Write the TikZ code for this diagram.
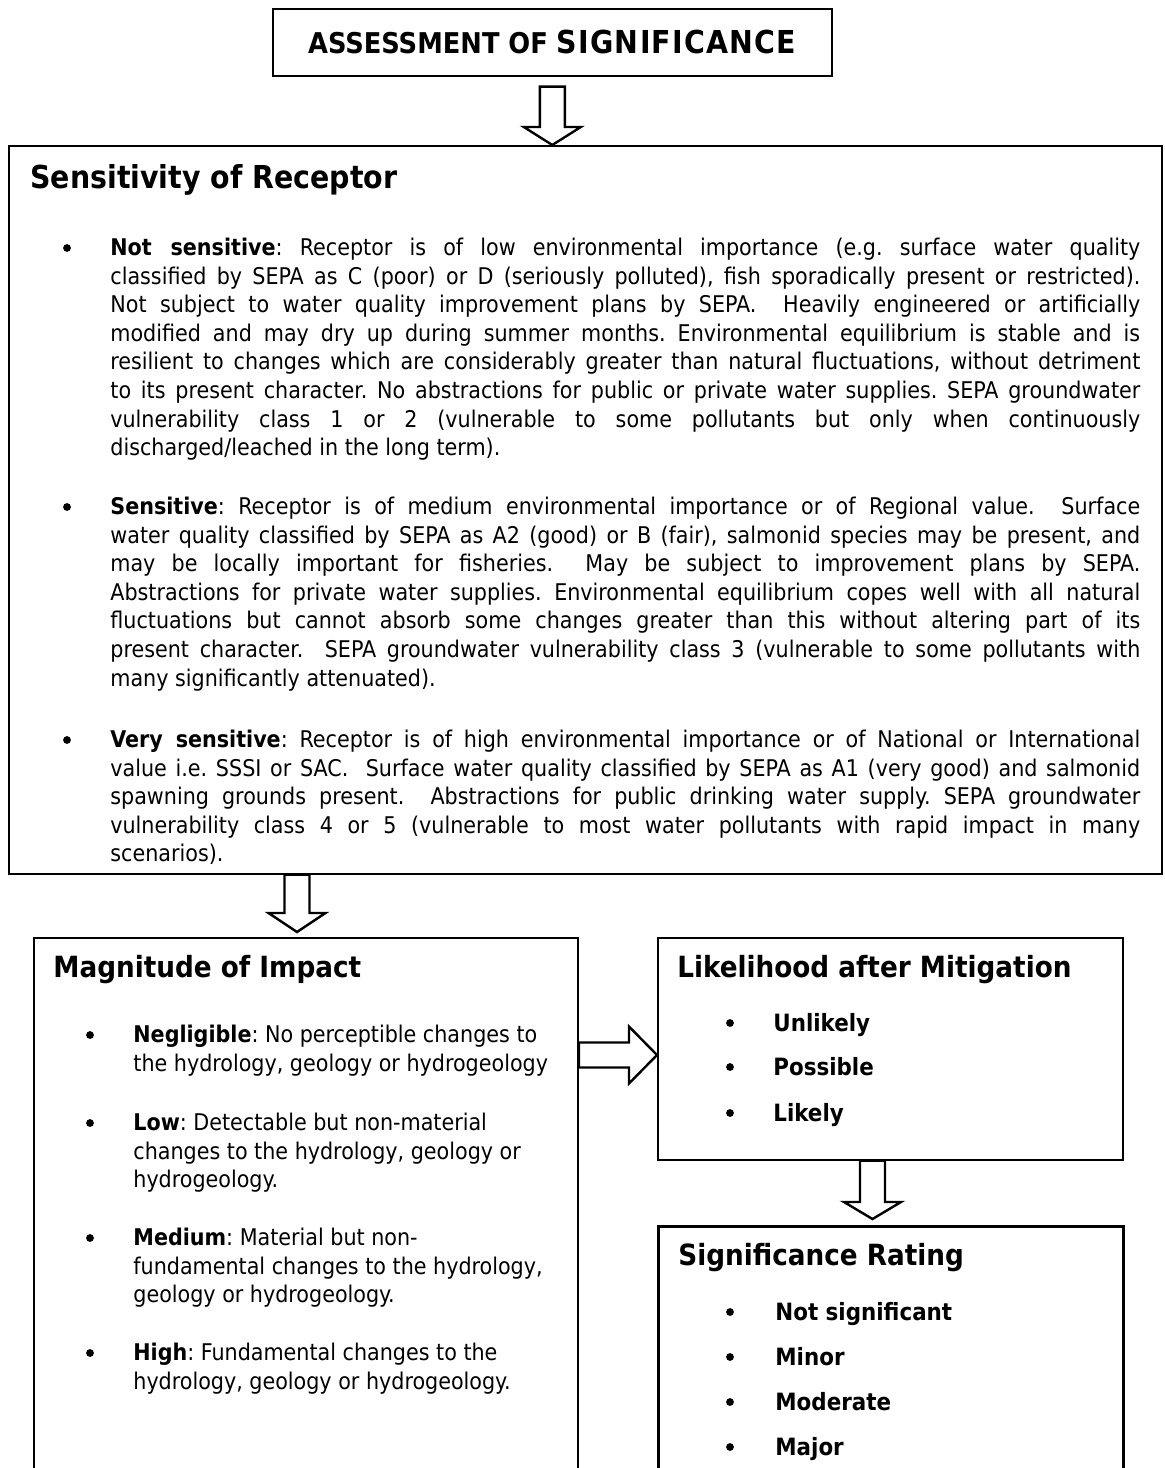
\documentclass[tikz,border=0pt]{standalone}
\usepackage{fontspec}
\setmainfont{DejaVu Sans Condensed}[BoldFont={DejaVu Sans Condensed Bold}]
\usetikzlibrary{calc}
\hbadness=10000 \hfuzz=30pt
\frenchspacing
\newcommand\bodyfont{\fontsize{11.5}{14.3}\selectfont\frenchspacing}
\newcommand\headfont{\fontsize{14.6}{17}\selectfont\bfseries}
\newcommand\bigheadfont{\fontsize{15.8}{18}\selectfont\bfseries}
\newcommand\itemfont{\fontsize{11.9}{14}\selectfont\bfseries}
\newcommand\jl[1]{\hbox to 515pt{#1}}
\newcommand\pl[1]{\hbox{#1}}
\newcommand\vblock[3]{%
  \draw[blockarrow] let \p1=(#1), \p2=(#2) in
    (\x1-6.25pt,\y1) -- (\x1-6.25pt,\y2+#3) -- (\x1-14.25pt,\y2+#3) -- (\x1,\y2)
    -- (\x1+14.25pt,\y2+#3) -- (\x1+6.25pt,\y2+#3) -- (\x1+6.25pt,\y1) -- cycle;}
\newcommand\hblock[3]{%
  \draw[blockarrow] let \p1=(#1), \p2=(#2) in
    (\x1,\y1-6.25pt) -- (\x2-#3,\y1-6.25pt) -- (\x2-#3,\y1-14.25pt) -- (\x2,\y1)
    -- (\x2-#3,\y1+14.25pt) -- (\x2-#3,\y1+6.25pt) -- (\x1,\y1+6.25pt) -- cycle;}
\begin{document}
\begin{tikzpicture}[x=0.5pt,y=-0.5pt,
  box/.style={draw, line width=0.8pt, inner sep=0pt, anchor=north west},
  para/.style={anchor=north west, inner sep=0pt, font=\bodyfont},
  bul/.style={circle, fill=black, inner sep=0pt, minimum size=3.9pt},
  head/.style={anchor=base west, inner sep=0pt, font=\headfont},
  itm/.style={anchor=base west, inner sep=0pt, font=\itemfont},
  blockarrow/.style={draw, line width=1.2pt, fill=white, line join=miter}]
\useasboundingbox (0,0) rectangle (1165,1468);
\clip (0,0) rectangle (1165,1468);
\fill[white] (0,0) rectangle (1165,1468);

% ---------- boxes ----------
\node[box, minimum width=279.5pt, minimum height=33.5pt] (title) at (272,8)
  {\bfseries\fontsize{14.3}{17}\selectfont ASSESSMENT OF {\fontsize{15.8}{17}\selectfont\addfontfeature{LetterSpace=4}SIGNIFICANCE}};
\node[box, minimum width=576.5pt, minimum height=364pt] (main) at (8,145) {};
\node[box, line width=0.9pt, minimum width=272pt, minimum height=290pt] (mag) at (33,937) {};
\node[box, minimum width=232.5pt, minimum height=111pt] (lik) at (657,937) {};
\node[box, line width=1.5pt, minimum width=232.5pt, minimum height=145pt] (sig) at (657,1225) {};

% ---------- arrows ----------
\coordinate (a2x) at (297,0);
\coordinate (a3y) at (0,1055);
\coordinate (a4x) at (872.5,0);
\vblock{$(title.south)+(0,10)$}{title.south |- main.north}{9pt}
\vblock{main.south -| a2x}{$(mag.north -| a2x)+(0,-5)$}{9.5pt}
\hblock{mag.east |- a3y}{lik.west |- a3y}{14pt}
\vblock{lik.south -| a4x}{$(sig.north -| a4x)+(0,-6)$}{8.5pt}

% ---------- Sensitivity of Receptor ----------
\node[head, font=\bigheadfont] (h1) at (30,188) {Sensitivity of Receptor};
\node[bul] (b1) at (67,248) {};
\node[para] (ns) at (110,235) {\vbox{%
\jl{\strut\textbf{Not sensitive}: Receptor is of low environmental importance (e.g. surface water quality}
\jl{classified by SEPA as C (poor) or D (seriously polluted), fish sporadically present or restricted).}
\jl{Not subject to water quality improvement plans by SEPA.\ \ Heavily engineered or artificially}
\jl{modified and may dry up during summer months. Environmental equilibrium is stable and is}
\jl{resilient to changes which are considerably greater than natural fluctuations, without detriment}
\jl{to its present character. No abstractions for public or private water supplies. SEPA groundwater}
\jl{vulnerability class 1 or 2 (vulnerable to some pollutants but only when continuously}
\pl{discharged/leached in the long term).}}};
\node[bul] (b2) at (67,507) {};
\node[para] (se) at (110,494) {\vbox{%
\jl{\strut\textbf{Sensitive}: Receptor is of medium environmental importance or of Regional value.\ \ Surface}
\jl{water quality classified by SEPA as A2 (good) or B (fair), salmonid species may be present, and}
\jl{may be locally important for fisheries.\ \ May be subject to improvement plans by SEPA.}
\jl{Abstractions for private water supplies. Environmental equilibrium copes well with all natural}
\jl{fluctuations but cannot absorb some changes greater than this without altering part of its}
\jl{present character.\ \ SEPA groundwater vulnerability class 3 (vulnerable to some pollutants with}
\pl{many significantly attenuated).}}};
\node[bul] (b3) at (67,740) {};
\node[para] (vs) at (110,727) {\vbox{%
\jl{\strut\textbf{Very sensitive}: Receptor is of high environmental importance or of National or International}
\jl{value i.e. SSSI or SAC.\ \ Surface water quality classified by SEPA as A1 (very good) and salmonid}
\jl{spawning grounds present.\ \ Abstractions for public drinking water supply. SEPA groundwater}
\jl{vulnerability class 4 or 5 (vulnerable to most water pollutants with rapid impact in many}
\pl{scenarios).}}};

% ---------- Magnitude of Impact ----------
\node[head] (h2) at (53,977) {Magnitude of Impact};
\node[bul] (m1) at (90,1035) {};
\node[para] (neg) at (133,1022) {\vbox{%
\pl{\strut\textbf{Negligible}: No perceptible changes to}
\pl{the hydrology, geology or hydrogeology}}};
\node[bul] (m2) at (90,1123) {};
\node[para] (low) at (133,1110) {\vbox{%
\pl{\strut\textbf{Low}: Detectable but non-material}
\pl{changes to the hydrology, geology or}
\pl{hydrogeology.}}};
\node[bul] (m3) at (90,1238) {};
\node[para] (med) at (133,1225) {\vbox{%
\pl{\strut\textbf{Medium}: Material but non-}
\pl{fundamental changes to the hydrology,}
\pl{geology or hydrogeology.}}};
\node[bul] (m4) at (90,1353) {};
\node[para] (high) at (133,1340) {\vbox{%
\pl{\strut\textbf{High}: Fundamental changes to the}
\pl{hydrology, geology or hydrogeology.}}};

% ---------- Likelihood after Mitigation ----------
\node[head] (h3) at (677,977) {Likelihood after Mitigation};
\node[bul] (l1) at (730,1023) {};
\node[itm] (lu) at (773,1031) {Unlikely};
\node[bul] (l2) at (730,1067) {};
\node[itm] (lp) at (773,1075) {Possible};
\node[bul] (l3) at (730,1113) {};
\node[itm] (ll) at (773,1121) {Likely};

% ---------- Significance Rating ----------
\node[head] (h4) at (678,1265) {Significance Rating};
\node[bul] (s1) at (730,1312) {};
\node[itm] (sn) at (775,1320) {Not significant};
\node[bul] (s2) at (730,1357) {};
\node[itm] (smi) at (775,1365) {Minor};
\node[bul] (s3) at (730,1402) {};
\node[itm] (smo) at (775,1410) {Moderate};
\node[bul] (s4) at (730,1447) {};
\node[itm] (sma) at (775,1455) {Major};
\end{tikzpicture}
\end{document}
